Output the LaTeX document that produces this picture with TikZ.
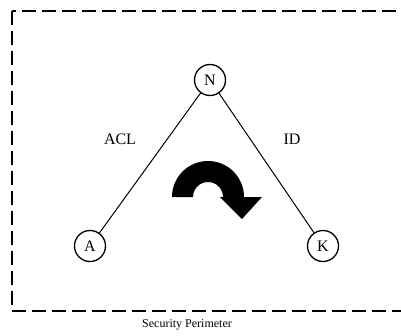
\documentclass[tikz,border=0pt]{standalone}
\usepackage{fontspec}
\setmainfont{Liberation Serif}
\begin{document}
\begin{tikzpicture}[x=1pt,y=-1pt,
  vtx/.style={circle,draw,line width=1.3pt,minimum size=31pt,inner sep=0pt,font=\fontsize{16}{17}\selectfont},
  edge/.style={line width=1pt},
  lbl/.style={font=\fontsize{16}{17}\selectfont},
  captext/.style={font=\fontsize{12}{13}\selectfont}]
\useasboundingbox (0,0) rectangle (401,335);
\clip (0,0) rectangle (401,335);
\draw[line width=2pt,dash pattern=on 14pt off 6pt] (12,11) rectangle (404,311);
\node[vtx] (N) at (210,80) {N};
\node[vtx] (A) at (90,246) {A};
\node[vtx] (K) at (323,246) {K};
\draw[edge] (N) -- (A);
\draw[edge] (N) -- (K);
\node[lbl] (acl) at (120,139) {ACL};
\node[lbl] (id) at (292,139) {ID};
\fill (172,197) arc[start angle=180,end angle=360,radius=36] -- (262,197) -- (242,219) -- (220,197) -- (223,197) arc[start angle=360,end angle=180,radius=15] -- cycle;
\node[captext] (sp) at (187,325) {Security Perimeter};
\end{tikzpicture}
\end{document}
